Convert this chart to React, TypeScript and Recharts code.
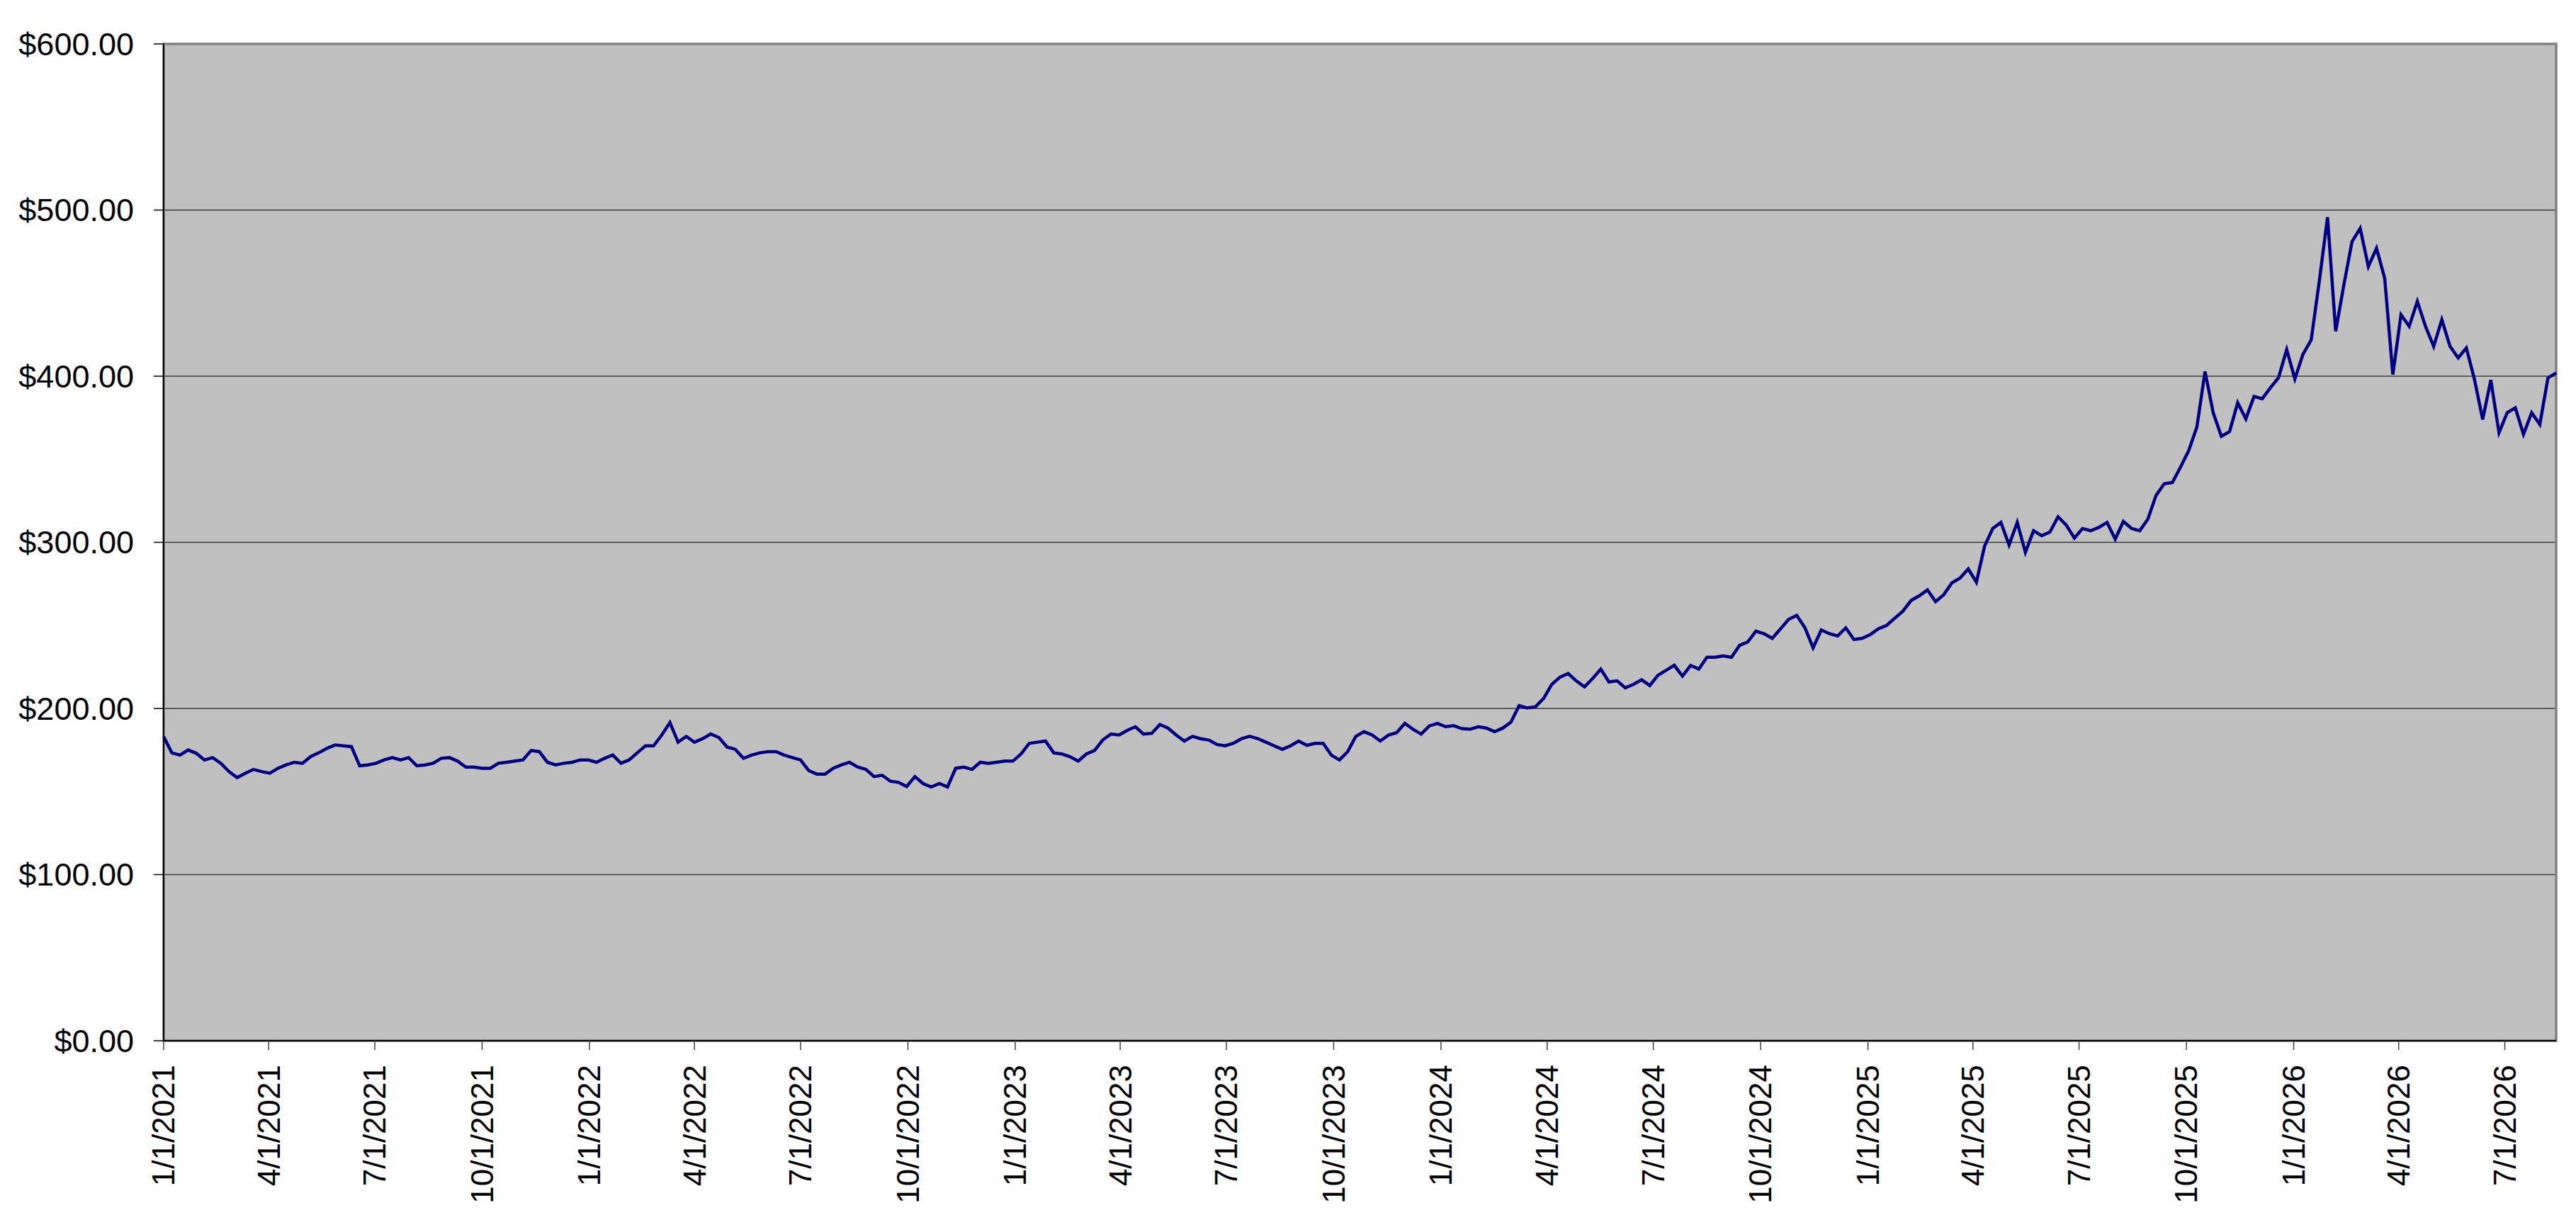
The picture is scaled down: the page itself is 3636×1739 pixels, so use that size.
import { LineChart, Line, XAxis, YAxis, CartesianGrid, ReferenceArea } from "recharts";

const DAY = 86400000;
const START = Date.UTC(2021, 0, 1);
const FONT = "'Liberation Sans', Arial, sans-serif";

// weekly closing prices, first point on 1/1/2021
const prices2021 = [
  183, 173.3, 171.9, 175, 173, 169, 170.4, 167, 162, 158.4, 161, 163.3, 162,
  161, 164, 166, 167.6, 167, 171, 173.3, 176, 178, 177.5, 177, 165.5, 166,
  167, 169, 170.4, 169, 170.4, 165.5, 166, 167, 170, 170.4, 168.3, 164.7,
  164.7, 164, 164, 167, 167.6, 168.3, 169, 174.7, 174, 167.6, 166, 167, 167.6,
  169,
];
const prices2022 = [
  169, 167.6, 170, 172, 167, 169, 173.3, 177.5, 177.5, 184, 191.5, 179.7,
  183.2, 179.7, 181.8, 184.6, 182.5, 176.8, 175.4, 170, 171.9, 173.3, 174, 174,
  171.9, 170.4, 169, 162.6, 160.5, 160.5, 164, 166, 167.6, 164.7, 163.3, 159,
  159.8, 156.2, 155.5, 153, 159, 154.8, 152.7, 154.8, 152.7, 164, 164.7, 163.3,
  167.6, 167, 167.6, 168.3,
];
const prices2023 = [
  168.3, 172.6, 179, 179.7, 180.4, 173.3, 172.6, 171, 168.3, 172.6, 174.7, 181,
  184.6, 184, 186.8, 189, 184.6, 185, 190.3, 188.2, 184, 180.4, 183.2, 181.8,
  181, 178.3, 177.5, 179, 181.8, 183.2, 181.8, 179.7, 177.5, 175.4, 177.5,
  180.4, 177.8, 179, 179, 171.9, 169, 174, 183.2, 186, 184, 180.4, 184, 185.4,
  191, 187.5, 184.6, 189.5,
];
const prices2024 = [
  191, 189, 189.6, 187.8, 187.5, 189, 188.2, 186, 188.2, 191.8, 201.7, 200.3,
  201, 206, 214.5, 218.8, 221, 216.6, 213, 218, 223.7, 216, 216.6, 212.4, 214.5,
  217.3, 213.8, 220, 223, 226, 219.5, 225.9, 223.7, 230.8, 230.8, 231.6, 230.8,
  238, 240, 246.5, 245, 242.2, 247.9, 253.6, 256, 248.6, 236.5, 247.2, 245,
  243.6, 248.5, 241.5,
];
const prices2025 = [
  242.2, 244.4, 248, 250, 254.3, 258.6, 265, 267.8, 271.4, 264.3, 268.5, 275.6,
  278.5, 284, 276, 297.7, 308.3, 312, 298.4, 312, 294, 307, 304, 306.2, 315.4,
  310.4, 302.6, 308.3, 307, 309, 312, 301.9, 312.6, 308.3, 307, 314, 328.2,
  335.3, 336, 345.3, 355.2, 369.4, 402.8, 378, 363.8, 366.6, 384, 374.3, 387.8,
  386.4, 393, 399.1,
];
const prices2026 = [
  416, 398.4, 413.3, 421.8, 457.4, 495.7, 427, 455, 481, 489, 466, 477, 459,
  401, 437, 430, 445, 430, 418, 434, 418, 411, 417, 398, 374, 397.7, 366, 378,
  381, 365, 378, 371, 399, 402,
];

const quarterLabels = [
  "1/1/2021", "4/1/2021", "7/1/2021", "10/1/2021",
  "1/1/2022", "4/1/2022", "7/1/2022", "10/1/2022",
  "1/1/2023", "4/1/2023", "7/1/2023", "10/1/2023",
  "1/1/2024", "4/1/2024", "7/1/2024", "10/1/2024",
  "1/1/2025", "4/1/2025", "7/1/2025", "10/1/2025",
  "1/1/2026", "4/1/2026", "7/1/2026",
];

const priceTicks = [0, 100, 200, 300, 400, 500, 600];

const prices = [
  ...prices2021, ...prices2022, ...prices2023,
  ...prices2024, ...prices2025, ...prices2026,
];

const data = prices.map((price, i) => ({ t: START + i * 7 * DAY, price }));

const parseDate = (s: string) => {
  const [m, d, y] = s.split("/").map(Number);
  return Date.UTC(y, m - 1, d);
};

const quarterTicks = quarterLabels.map(parseDate);

const formatDate = (t: number) => {
  const d = new Date(t);
  return `${d.getUTCMonth() + 1}/${d.getUTCDate()}/${d.getUTCFullYear()}`;
};

const formatPrice = (v: number) => `$${v.toFixed(2)}`;

const DateTick = (props: any) => {
  const { x, y, payload } = props;
  return (
    <text
      x={x}
      y={y}
      transform={`rotate(-90, ${x}, ${y})`}
      textAnchor="end"
      dy="0.35em"
      fontSize={44}
      fontFamily={FONT}
      fill="#000"
    >
      {formatDate(payload.value)}
    </text>
  );
};

const App = () => {
  const tEnd = data[data.length - 1].t;
  return (
    <LineChart
      width={3620}
      height={1725}
      data={data}
      margin={{ top: 54, right: 20, left: 23, bottom: 24 }}
    >
      <CartesianGrid vertical={false} stroke="#3c3c3c" strokeWidth={1.5} fill="#C0C0C0" />
      <ReferenceArea
        x1={START}
        x2={tEnd}
        y1={0}
        y2={600}
        fill="#C0C0C0"
        fillOpacity={0}
        stroke="#808080"
        strokeWidth={3.5}
      />
      <XAxis
        dataKey="t"
        type="number"
        scale="time"
        domain={[START, tEnd]}
        ticks={quarterTicks}
        tick={<DateTick />}
        tickSize={13}
        tickMargin={21}
        height={240}
        interval={0}
        axisLine={{ stroke: "#000", strokeWidth: 2 }}
        tickLine={{ stroke: "#404040", strokeWidth: 1.5 }}
      />
      <YAxis
        domain={[0, 600]}
        ticks={priceTicks}
        tickFormatter={formatPrice}
        width={200}
        tickSize={14}
        tickMargin={28}
        interval={0}
        axisLine={{ stroke: "#000", strokeWidth: 2 }}
        tickLine={{ stroke: "#000", strokeWidth: 1.5 }}
        tick={{ fill: "#000", fontSize: 45, fontFamily: FONT }}
      />
      <Line
        type="linear"
        dataKey="price"
        stroke="#000080"
        strokeWidth={4.5}
        dot={false}
        activeDot={false}
        isAnimationActive={false}
      />
    </LineChart>
  );
};

export default App;
